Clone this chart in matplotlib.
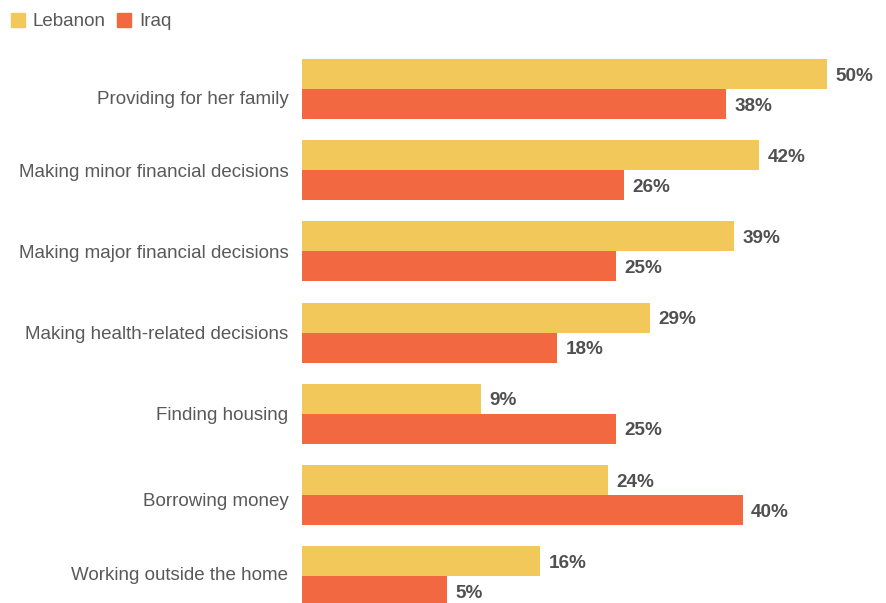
import numpy as np
import matplotlib.pyplot as plt

plt.rcParams['font.family'] = ['Liberation Sans', 'DejaVu Sans']

categories = ['Providing for her family', 'Making minor financial decisions',
              'Making major financial decisions', 'Making health-related decisions',
              'Finding housing', 'Borrowing money', 'Working outside the home']
lebanon = [50, 42, 39, 29, 9, 24, 16]
iraq = [38, 26, 25, 18, 25, 40, 5]

col_leb = '#f2c85b'
col_irq = '#f26841'
txt = '#595959'

# bars in the original start left of zero
base = -12.2
# small vertical nudges of the category labels (in group units), as in the original
label_nudge = [0.11, 0, 0, 0, 0, 0.05, -0.03]
dy = 0.025  # text sits a touch lower than matplotlib's centre

fig = plt.figure(figsize=(8.87, 6.03), dpi=100)
ax = fig.add_axes([302/887, 0, 585/887, 1])

y = np.arange(len(categories))
h = 0.369
leb = np.array(lebanon)
irq = np.array(iraq)
ax.barh(y - h/2, leb - base, left=base, height=h, color=col_leb)
ax.barh(y + h/2, irq - base, left=base, height=h, color=col_irq)

for i in range(len(categories)):
    ax.text(leb[i] + 1.0, y[i] - h/2 + dy, f'{leb[i]}%', va='center', ha='left',
            fontsize=13.6, fontweight='bold', color='#505050')
    ax.text(irq[i] + 1.0, y[i] + h/2 + dy, f'{irq[i]}%', va='center', ha='left',
            fontsize=13.6, fontweight='bold', color='#505050')
    ax.text(base - 1.6, y[i] + label_nudge[i] + dy, categories[i], va='center', ha='right',
            fontsize=13.5, color=txt)

ax.set_xlim(base, base + 585/8.44)
ax.set_ylim(-89/81.2, (603-89)/81.2)
ax.invert_yaxis()
ax.axis('off')

# legend
fig.patches.append(plt.Rectangle((11/887, 1 - 27/603), 14/887, 14/603,
                                 transform=fig.transFigure, color=col_leb))
fig.text(33/887, 1 - 21.5/603, 'Lebanon', va='center', ha='left', fontsize=13.5, color=txt)
fig.patches.append(plt.Rectangle((117/887, 1 - 27/603), 14/887, 14/603,
                                 transform=fig.transFigure, color=col_irq))
fig.text(139/887, 1 - 21.5/603, 'Iraq', va='center', ha='left', fontsize=13.5, color=txt)

fig.savefig('out.png', dpi=100)
